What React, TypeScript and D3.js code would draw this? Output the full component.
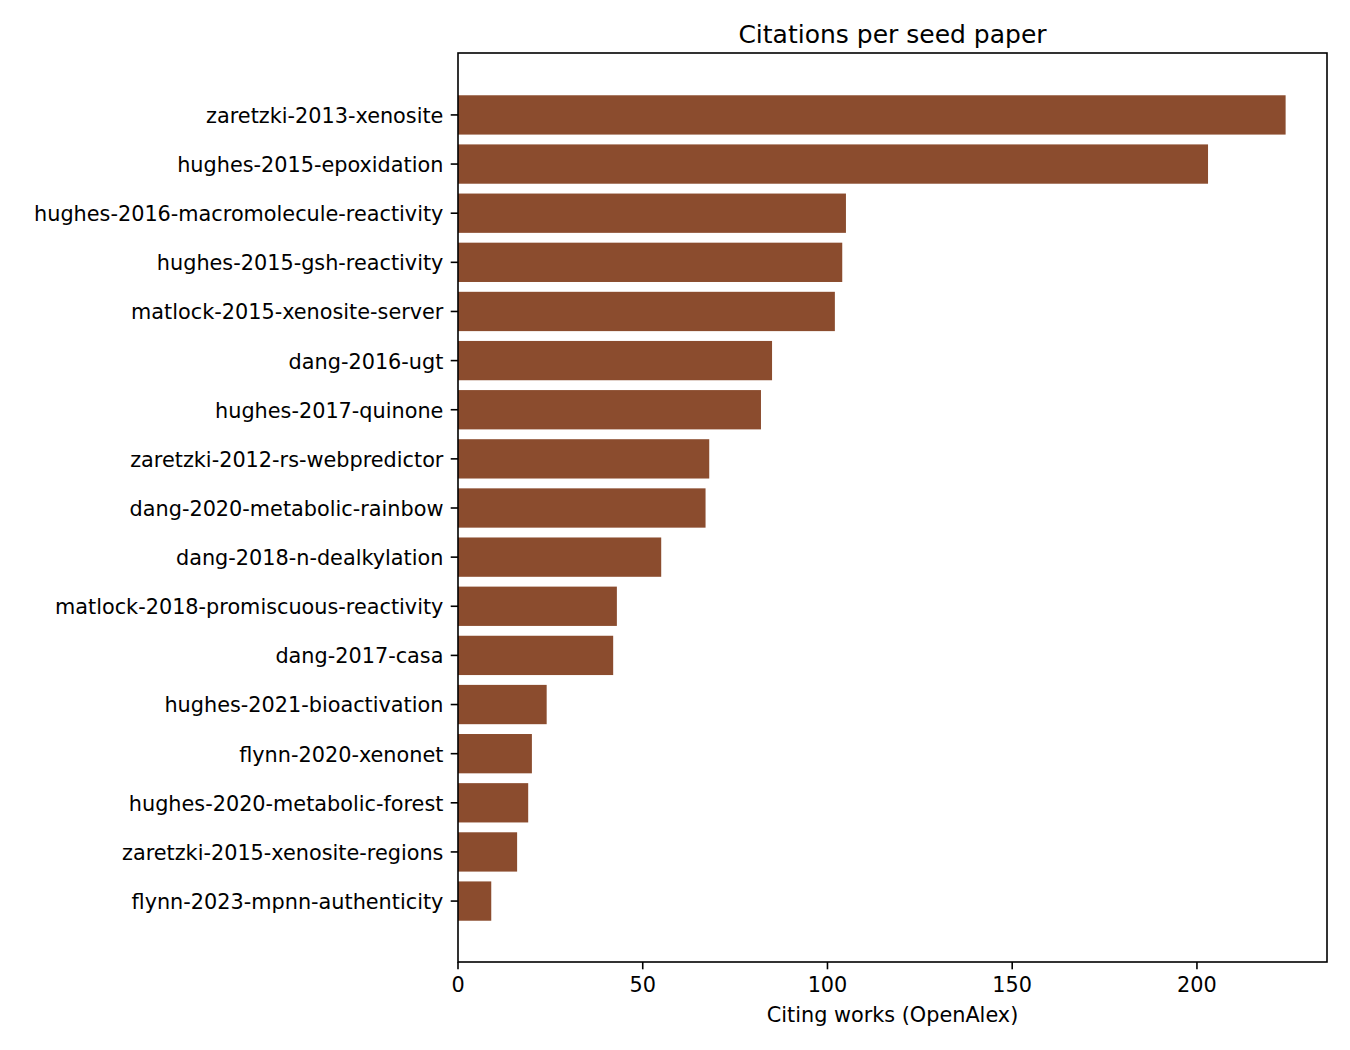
import * as d3 from "d3";
import React from "react";

// seed papers, top to bottom
const papers = [
  "zaretzki-2013-xenosite",
  "hughes-2015-epoxidation",
  "hughes-2016-macromolecule-reactivity",
  "hughes-2015-gsh-reactivity",
  "matlock-2015-xenosite-server",
  "dang-2016-ugt",
  "hughes-2017-quinone",
  "zaretzki-2012-rs-webpredictor",
  "dang-2020-metabolic-rainbow",
  "dang-2018-n-dealkylation",
  "matlock-2018-promiscuous-reactivity",
  "dang-2017-casa",
  "hughes-2021-bioactivation",
  "flynn-2020-xenonet",
  "hughes-2020-metabolic-forest",
  "zaretzki-2015-xenosite-regions",
  "flynn-2023-mpnn-authenticity",
];

const citations = [224, 203, 105, 104, 102, 85, 82, 68, 67, 55, 43, 42, 24, 20, 19, 16, 9];

const xTicks = [0, 50, 100, 150, 200];

const title = "Citations per seed paper";
const xLabel = "Citing works (OpenAlex)";

const W = 1350;
const H = 1050;
const margin = { top: 53, right: 23, bottom: 88, left: 458 };
const font = "DejaVu Sans";
const barColor = "#8b4c2e";
const tickLen = 7.3;

export default function App() {
  const innerW = W - margin.left - margin.right;
  const innerH = H - margin.top - margin.bottom;

  const maxVal = d3.max(citations) || 0;
  const x = d3.scaleLinear().domain([0, maxVal * 1.05]).range([0, innerW]);
  const y = d3
    .scaleBand<string>()
    .domain(papers)
    .range([1, innerH])
    .paddingInner(0.2)
    .paddingOuter(0.84);

  return (
    <div style={{ position: "absolute", left: 0, top: 0, background: "#fff" }}>
      <svg width={W} height={H} fontFamily={font}>
        <rect width={W} height={H} fill="#fff" />
        <text
          x={margin.left + innerW / 2}
          y={42.5}
          fontSize={25}
          textAnchor="middle"
          fill="#000"
        >
          {title}
        </text>
        <g transform={`translate(${margin.left}, ${margin.top})`}>
          {papers.map((p, i) => (
            <rect
              key={p}
              x={x(0)}
              y={y(p)}
              width={x(citations[i]) - x(0)}
              height={y.bandwidth()}
              fill={barColor}
            />
          ))}

          {/* frame */}
          <rect
            x={0}
            y={0}
            width={innerW}
            height={innerH}
            fill="none"
            stroke="#000"
            strokeWidth={1.6}
          />

          {/* y ticks */}
          {papers.map((p) => {
            const cy = (y(p) || 0) + y.bandwidth() / 2;
            return (
              <g key={`yt-${p}`} transform={`translate(0, ${cy})`}>
                <line x1={-tickLen} x2={0} stroke="#000" strokeWidth={1.6} />
                <text
                  x={-tickLen - 7.3}
                  dy="0.38em"
                  fontSize={20.8}
                  textAnchor="end"
                  fill="#000"
                >
                  {p}
                </text>
              </g>
            );
          })}

          {/* x ticks */}
          {xTicks.map((t) => (
            <g key={`xt-${t}`} transform={`translate(${x(t)}, ${innerH})`}>
              <line y1={0} y2={tickLen} stroke="#000" strokeWidth={1.6} />
              <text y={30} fontSize={20.8} textAnchor="middle" fill="#000">
                {t}
              </text>
            </g>
          ))}

          <text
            x={innerW / 2}
            y={innerH + 60}
            fontSize={20.8}
            textAnchor="middle"
            fill="#000"
          >
            {xLabel}
          </text>
        </g>
      </svg>
    </div>
  );
}
